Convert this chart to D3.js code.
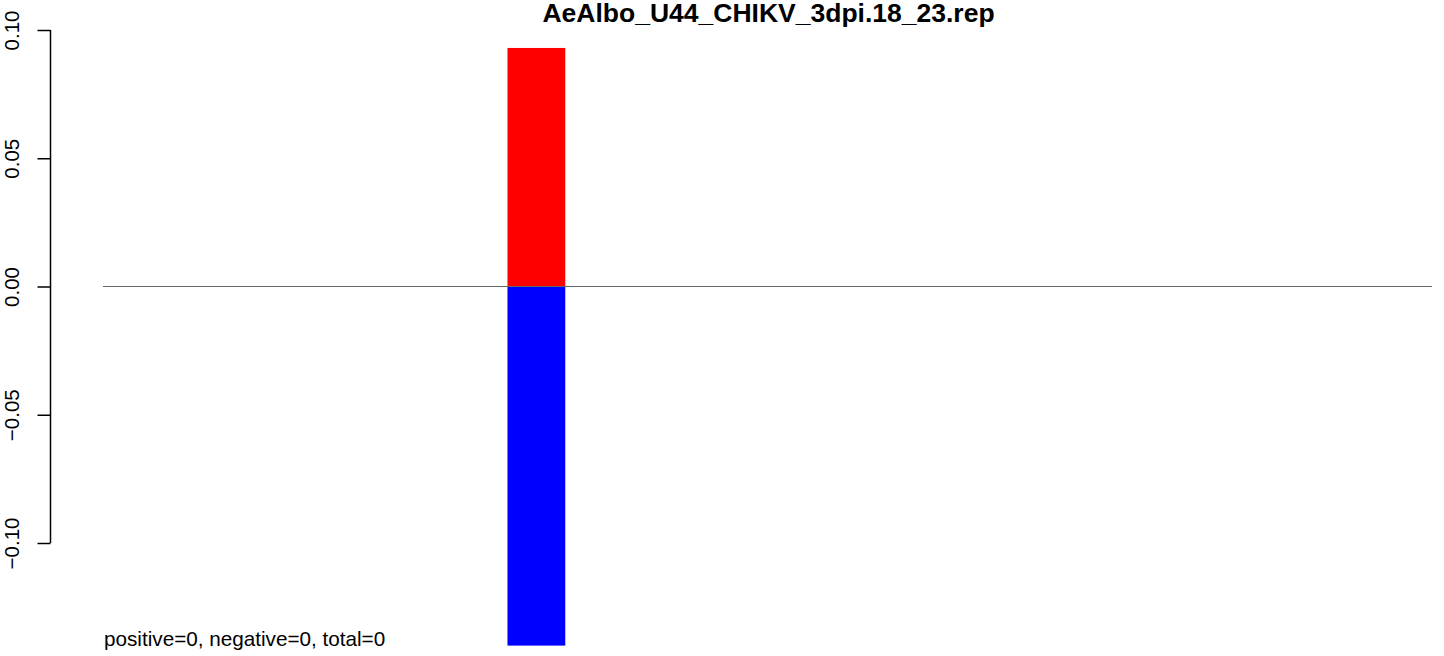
<!DOCTYPE html>
<html>
<head>
<meta charset="utf-8">
<script src="https://cdn.jsdelivr.net/npm/d3@7"></script>
<style>
  html, body { margin: 0; padding: 0; background: #fff; }
  svg { display: block; font-family: "Liberation Sans", Arial, Helvetica, sans-serif; }
</style>
</head>
<body>
<svg id="chart" width="1444" height="656"></svg>
<script>
// ---- data ----
const title = "AeAlbo_U44_CHIKV_3dpi.18_23.rep";
const binStart = [7];
const binEnd = [8];
const positiveValues = [0.093];
const negativeValues = [-0.14];
const yTicks = [-0.10, -0.05, 0.00, 0.05, 0.10];
const yTickLabels = ["\u22120.10", "\u22120.05", "0.00", "0.05", "0.10"];
const summaryText = "positive=0, negative=0, total=0";
const xDomain = [0, 23];
const yDomain = [-0.14, 0.10];

// ---- layout ----
const W = 1444, H = 656;
const plot = { left: 103, right: 1432, top: 30, bottom: 645.6 };
const svg = d3.select("#chart");

const x = d3.scaleLinear().domain(xDomain).range([plot.left, plot.right]);
const y = d3.scaleLinear().domain(yDomain).range([plot.bottom, plot.top]);

// title
svg.append("text")
  .attr("x", 768.5)
  .attr("y", 22)
  .attr("text-anchor", "middle")
  .attr("font-weight", "bold")
  .attr("font-size", 26.5)
  .text(title);

// bars
const bars = binStart.map((s, i) => ({ s, e: binEnd[i], p: positiveValues[i], n: negativeValues[i] }));
svg.selectAll("rect.pos").data(bars).enter().append("rect")
  .attr("class", "pos")
  .attr("x", d => x(d.s))
  .attr("width", d => x(d.e) - x(d.s))
  .attr("y", d => y(d.p))
  .attr("height", d => y(0) - y(d.p))
  .attr("fill", "#ff0000");
svg.selectAll("rect.neg").data(bars).enter().append("rect")
  .attr("class", "neg")
  .attr("x", d => x(d.s))
  .attr("width", d => x(d.e) - x(d.s))
  .attr("y", y(0))
  .attr("height", d => y(d.n) - y(0))
  .attr("fill", "#0000ff");

// zero line
svg.append("line")
  .attr("x1", plot.left).attr("x2", plot.right)
  .attr("y1", y(0)).attr("y2", y(0))
  .attr("stroke", "#666").attr("stroke-width", 1);

// y axis
const axisX = 50.5;
const yAxis = d3.axisLeft(y)
  .tickValues(yTicks)
  .tickSize(13)
  .tickFormat((d, i) => yTickLabels[i]);
const gy = svg.append("g")
  .attr("transform", `translate(${axisX},0)`)
  .call(yAxis);
gy.select(".domain")
  .attr("d", `M0,${y(yTicks[0])}V${y(yTicks[yTicks.length - 1])}`)
  .attr("stroke", "#000").attr("stroke-width", 1.5);
gy.selectAll(".tick line").attr("stroke", "#000").attr("stroke-width", 1.5);
gy.selectAll(".tick text")
  .attr("font-size", 20.5)
  .attr("font-family", "Liberation Sans, Arial, sans-serif")
  .attr("fill", "#000")
  .attr("x", null).attr("dy", null)
  .attr("text-anchor", "middle")
  .attr("transform", "translate(-31.5,0) rotate(-90)");

// summary text
svg.append("text")
  .attr("x", 104)
  .attr("y", 646)
  .attr("font-size", 20.7)
  .text(summaryText);
</script>
</body>
</html>
